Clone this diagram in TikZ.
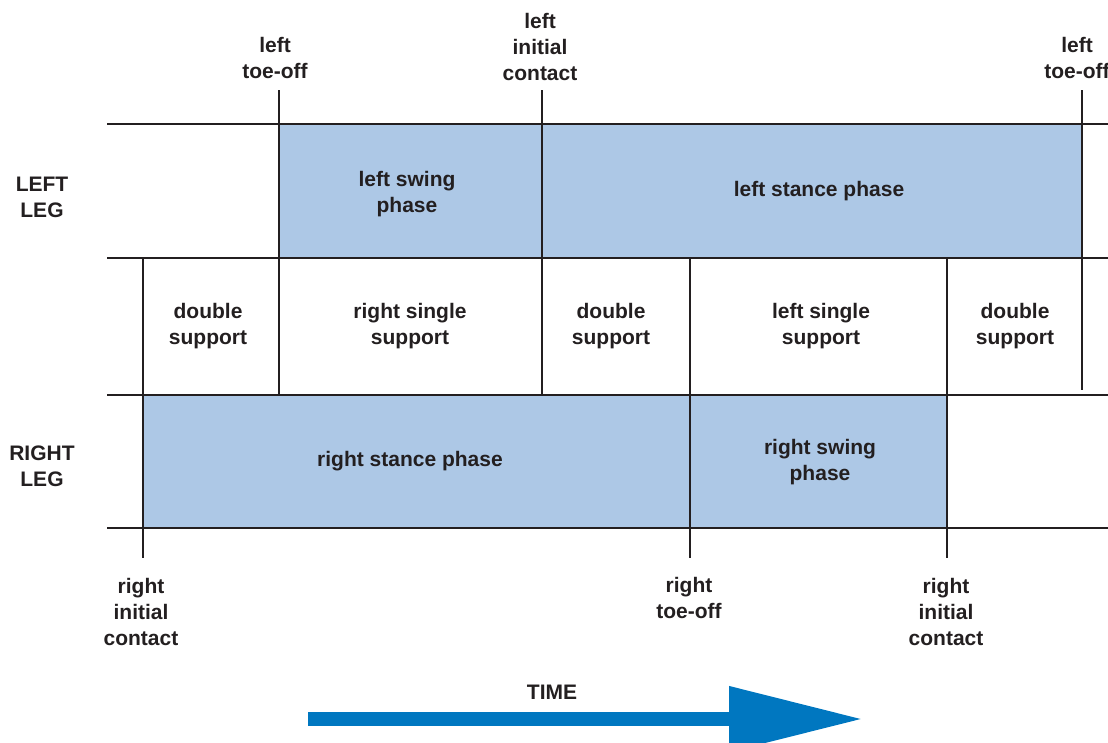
\documentclass[tikz,border=0pt]{standalone}
\usepackage{fontspec}
\setmainfont{Liberation Sans}
\usepackage{tikz}
\usetikzlibrary{positioning,calc,arrows.meta}
\definecolor{phaseblue}{RGB}{173,200,230}
\definecolor{timeblue}{RGB}{0,119,192}
\definecolor{inkline}{RGB}{35,31,32}

\begin{document}
\begin{tikzpicture}[x=1pt, y=-1pt]
        \tikzset{
            phase/.style={fill=phaseblue, draw=none},
            gridline/.style={draw=inkline, line width=2.5pt},
            lbl/.style={align=center, inner sep=0pt, text=inkline, font=\bfseries\fontsize{21}{26}\selectfont},
            timearrow/.style={draw=timeblue, line width=14pt, -{Triangle[length=134pt, width=62pt]}},
        }
        \useasboundingbox (0,0) rectangle (1108,742);

        % Phase fills
        \fill [phase] (279,124) rectangle (542,258);
        \fill [phase] (542,124) rectangle (1082,258);
        \fill [phase] (143,395) rectangle (690,528);
        \fill [phase] (690,395) rectangle (947,528);

        % Rows
        \foreach \y in {124,258,395,528}
            \draw [gridline] (107,\y) -- (1108,\y);

        % Gait events
        \draw [gridline] (279,90) -- (279,395);
        \draw [gridline] (542,90) -- (542,395);
        \draw [gridline] (1082,90) -- (1082,390);
        \draw [gridline] (143,258) -- (143,558);
        \draw [gridline] (690,258) -- (690,558);
        \draw [gridline] (947,258) -- (947,558);

        % Event labels
        \node [lbl] (lto) at (275,58) {left\\toe-off};
        \node [lbl] (lic) at (540,47) {left\\initial\\contact};
        \node [lbl] (ltonext) at (1077,58) {left\\toe-off};
        \node [lbl] (ric) at (141,612) {right\\initial\\contact};
        \node [lbl] (rto) at (689,598) {right\\toe-off};
        \node [lbl] (ricnext) at (946,612) {right\\initial\\contact};

        % Leg labels
        \node [lbl] (leftleg) at (42,197) {LEFT\\LEG};
        \node [lbl] (rightleg) at (42,466) {RIGHT\\LEG};

        % Phases
        \node [lbl] (lswing) at (407,194) {left swing\\phase};
        \node [lbl] (lstance) at (819,191) {left stance phase};
        \node [lbl] (dsone) at (208,326) {double\\support};
        \node [lbl] (rsingle) at (410,326) {right single\\support};
        \node [lbl] (dstwo) at (611,326) {double\\support};
        \node [lbl] (lsingle) at (821,326) {left single\\support};
        \node [lbl] (dsthree) at (1015,326) {double\\support};
        \node [lbl] (rstance) at (410,461) {right stance phase};
        \node [lbl] (rswing) at (820,462) {right swing\\phase};

        % Time axis
        \node [lbl] (time) at (552,692) {TIME};
        \coordinate (tstart) at (308,719);
        \coordinate (tend) at (863,719);
        \draw [timearrow] (tstart) -- (tend);
    \end{tikzpicture}
\end{document}
